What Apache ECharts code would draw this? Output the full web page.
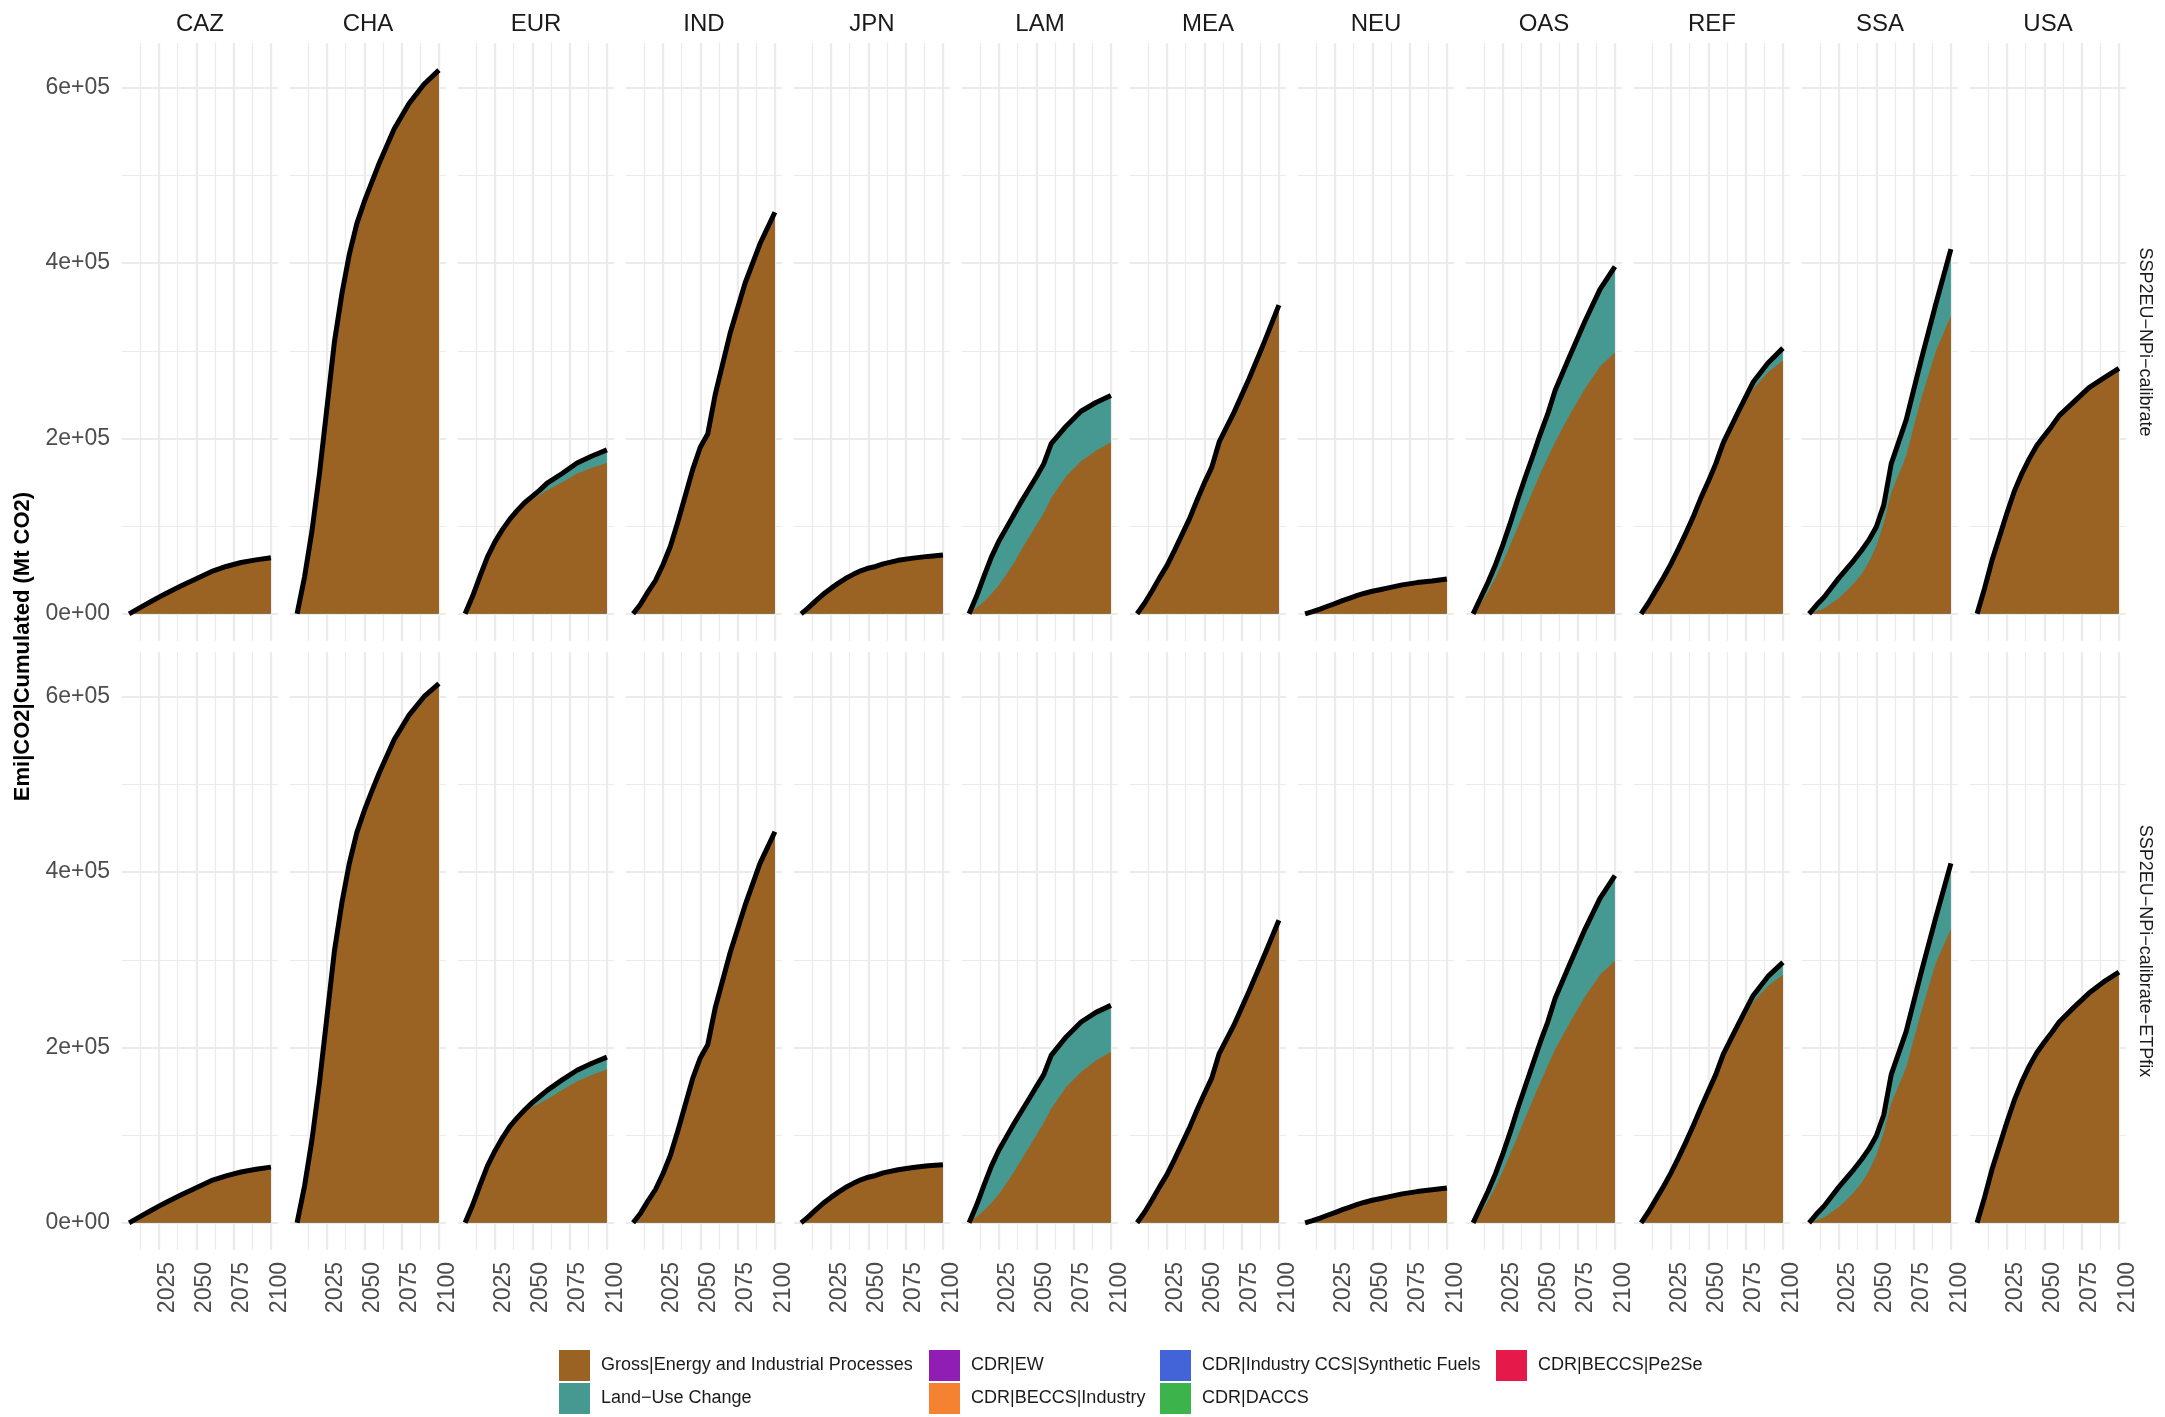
<!DOCTYPE html>
<html>
<head>
<meta charset="utf-8">
<title>Emi|CO2|Cumulated</title>
<script src="https://cdn.jsdelivr.net/npm/echarts@6/dist/echarts.min.js"></script>
<style>
  html, body { margin: 0; padding: 0; background: #ffffff; }
  #chart { width: 2165px; height: 1417px; }
</style>
</head>
<body>
<div id="chart"></div>
<script>
const years = [2005, 2010, 2015, 2020, 2025, 2030, 2035, 2040, 2045, 2050, 2055, 2060, 2070, 2080, 2090, 2100];
const regions = ['CAZ', 'CHA', 'EUR', 'IND', 'JPN', 'LAM', 'MEA', 'NEU', 'OAS', 'REF', 'SSA', 'USA'];
const scenarios = ['SSP2EU\u2212NPi\u2212calibrate', 'SSP2EU\u2212NPi\u2212calibrate\u2212ETPfix'];
const variables = ['Gross|Energy and Industrial Processes', 'Land\u2212Use Change', 'CDR|EW', 'CDR|BECCS|Industry',
  'CDR|Industry CCS|Synthetic Fuels', 'CDR|DACCS', 'CDR|BECCS|Pe2Se'];
const varColors = ['#9A6324', '#469990', '#911EB4', '#F58231', '#4363D8', '#3CB44B', '#E6194B'];

const none = [0, 0, 0, 0, 0, 0, 0, 0, 0, 0, 0, 0, 0, 0, 0, 0];

// Gross|Energy and Industrial Processes, cumulated Mt CO2, rows in region order
const grossNPi = [
  [0, 4800, 9600, 14300, 19000, 23500, 27800, 32000, 36000, 40000, 44000, 48000, 54000, 58500, 61500, 64000],
  [0, 42000, 95000, 160000, 235000, 310000, 365000, 410000, 445000, 470000, 492000, 514000, 553000, 582000, 604000, 620000],
  [0, 20000, 43000, 65000, 82000, 96000, 107500, 117000, 125000, 130500, 135500, 141000, 150000, 160000, 166500, 172000],
  [0, 11000, 25000, 38000, 56000, 77000, 105000, 135000, 165000, 190000, 205000, 250000, 320000, 377000, 422000, 458000],
  [0, 7000, 15000, 22500, 29000, 35000, 40500, 45000, 49000, 52000, 54000, 57000, 61000, 63500, 65500, 67000],
  [0, 7000, 14000, 23000, 33000, 45000, 58000, 73000, 87000, 101000, 115000, 132000, 157000, 174000, 186000, 196000],
  [0, 12000, 26000, 41000, 55000, 72000, 90000, 108000, 129000, 149000, 167000, 196000, 230000, 268000, 309000, 352000],
  [0, 2500, 5400, 8600, 11700, 15000, 18000, 21000, 23500, 25700, 27500, 29300, 33000, 35600, 37400, 39700],
  [0, 11000, 25000, 41000, 59000, 79000, 99000, 120000, 140000, 160000, 178000, 196000, 228000, 257000, 282000, 298000],
  [0, 12600, 27000, 41500, 57000, 74000, 92000, 110500, 131000, 149500, 169000, 192000, 225000, 256500, 275500, 289000],
  [0, 3000, 6000, 12000, 18000, 26000, 35000, 45000, 59000, 77000, 104000, 138000, 180000, 245000, 300000, 340000],
  [0, 29000, 61000, 88000, 115000, 140000, 160000, 177000, 192000, 203000, 214000, 226000, 242000, 258000, 269000, 280000]
];
// Land-Use Change, cumulated Mt CO2
const lucNPi = [
  none,
  none,
  [0, 0, 0, 0, 0, 0, 500, 1000, 2000, 3500, 5500, 8000, 10000, 12000, 13500, 15000],
  none,
  none,
  [0, 13000, 29000, 42000, 50000, 53000, 55000, 55000, 55000, 55000, 56000, 62000, 57000, 57000, 55000, 53000],
  none,
  none,
  [0, 7000, 11000, 15000, 20000, 25000, 32000, 36000, 40000, 45000, 50000, 59000, 67000, 77000, 88000, 98000],
  [0, 0, 0, 0, 0, 0, 0, 500, 1000, 1500, 2000, 3000, 5000, 7500, 10500, 14000],
  [0, 7000, 13000, 18000, 23000, 25000, 26000, 27000, 25000, 22000, 20000, 33000, 41000, 44000, 54000, 76000],
  none
];
const grossETP = [
  [0, 4800, 9600, 14300, 19000, 23500, 27800, 32000, 36000, 40000, 44000, 48000, 53500, 58000, 61000, 63500],
  [0, 42000, 95000, 160000, 235000, 310000, 365000, 410000, 445000, 470000, 492000, 513000, 551000, 579000, 600000, 615000],
  [0, 20000, 43000, 65000, 82000, 97000, 109500, 118500, 126000, 132000, 136500, 141000, 151500, 161500, 168500, 175000],
  [0, 11000, 25000, 38000, 56000, 77000, 105000, 135000, 165000, 188000, 203000, 245000, 308000, 362000, 410000, 446000],
  [0, 7000, 15000, 22500, 29000, 35000, 40500, 45000, 49000, 52000, 54000, 57000, 60500, 63000, 65000, 66300],
  [0, 7000, 14000, 23000, 33000, 45000, 58000, 72000, 86000, 100000, 114000, 130000, 155000, 172000, 185000, 195000],
  [0, 12000, 26000, 41000, 55000, 72000, 90000, 108000, 128000, 147000, 165000, 193000, 226000, 264000, 304000, 345000],
  [0, 2500, 5400, 8600, 11700, 15000, 18000, 21000, 23500, 25700, 27500, 29300, 33000, 35600, 37600, 39700],
  [0, 11000, 25000, 41000, 59000, 79000, 99000, 120000, 140000, 160000, 179000, 198000, 229000, 258000, 283000, 299000],
  [0, 12600, 27000, 41500, 57000, 74000, 92000, 110500, 130000, 148500, 167000, 189000, 221000, 251500, 270500, 283000],
  [0, 3000, 6000, 12000, 18000, 26000, 35000, 45000, 59000, 77000, 103000, 136000, 177000, 240000, 297000, 335000],
  [0, 29000, 61000, 88000, 115000, 140000, 161000, 179000, 194000, 206000, 217000, 229000, 246000, 262000, 275000, 286000]
];
const lucETP = [
  none,
  none,
  [0, 0, 0, 0, 0, 0, 500, 1500, 3000, 5000, 7500, 10000, 11500, 12500, 13500, 14000],
  none,
  none,
  [0, 13000, 29000, 42000, 50000, 53000, 55000, 55000, 55000, 55000, 55000, 61000, 57000, 57000, 55000, 53000],
  none,
  none,
  [0, 7000, 11000, 15000, 20000, 25000, 32000, 36000, 41000, 46000, 50000, 58000, 67000, 77000, 87000, 97000],
  [0, 0, 0, 0, 0, 0, 0, 500, 1000, 1500, 2000, 3000, 5000, 7500, 10500, 14000],
  [0, 7000, 13000, 18000, 23000, 25000, 26000, 27000, 25000, 22000, 20000, 33000, 41000, 45000, 52000, 75000],
  none
];

const grossByRow = [grossNPi, grossETP];
const lucByRow = [lucNPi, lucETP];

// legend columns (ggplot fills the legend column by column)
const legendColumns = [[0, 1], [2, 3], [4, 5], [6]];
const legendLeft = [559, 929, 1160, 1496];

const font = '"Liberation Sans", Arial, Helvetica, sans-serif';
const panelLeft = 122, panelStep = 168, panelWidth = 156;
const rowTop = [43, 652], panelHeight = 598;

// ggplot style expansion: 5% of the data range on both axes
let maxTotal = 0;
grossByRow.forEach(function (rows, s) {
  rows.forEach(function (row, r) {
    row.forEach(function (v, k) { maxTotal = Math.max(maxTotal, v + lucByRow[s][r][k]); });
  });
});
const yPad = 0.05 * maxTotal;
const yMin = -yPad, yMax = maxTotal + yPad;
const xPad = 0.05 * (years[years.length - 1] - years[0]);
const xMin = years[0] - xPad, xMax = years[years.length - 1] + xPad;

function sciLabel(v) {
  if (v === 0) return '0e+00';
  return (v / 100000) + 'e+05';
}

const grids = [], xAxes = [], yAxes = [], series = [], graphics = [];

scenarios.forEach(function (scen, s) {
  regions.forEach(function (reg, r) {
    const gi = s * regions.length + r;
    grids.push({ left: panelLeft + r * panelStep, top: rowTop[s], width: panelWidth, height: panelHeight });

    // major x axis (labels) then minor x axis (grid only)
    xAxes.push({
      type: 'value', gridIndex: gi, min: xMin, max: xMax, minInterval: 25, maxInterval: 25,
      axisLine: { show: false }, axisTick: { show: false },
      axisLabel: {
        show: s === 1, rotate: 90, margin: 12, fontSize: 23, color: '#4D4D4D', fontFamily: font,
        verticalAlign: 'top', lineHeight: 17, showMinLabel: false, showMaxLabel: false,
        formatter: function (v) { return v % 25 === 0 ? String(v) : ''; }
      },
      splitLine: { show: true, showMinLine: false, showMaxLine: false, lineStyle: { color: '#EBEBEB', width: 2.2 } }
    });
    xAxes.push({
      type: 'value', gridIndex: gi, min: xMin, max: xMax, minInterval: 12.5, maxInterval: 12.5,
      axisLine: { show: false }, axisTick: { show: false }, axisLabel: { show: false },
      splitLine: { show: true, showMinLine: false, showMaxLine: false, lineStyle: { color: '#EBEBEB', width: 1.2 } }
    });
    yAxes.push({
      type: 'value', gridIndex: gi, min: yMin, max: yMax, minInterval: 200000, maxInterval: 200000,
      axisLine: { show: false }, axisTick: { show: false },
      axisLabel: {
        show: r === 0, margin: 12, fontSize: 23, color: '#4D4D4D', fontFamily: font,
        showMinLabel: false, showMaxLabel: false,
        formatter: function (v) { return v % 200000 === 0 ? sciLabel(v) : ''; }
      },
      splitLine: { show: true, showMinLine: false, showMaxLine: false, lineStyle: { color: '#EBEBEB', width: 2.2 } }
    });
    yAxes.push({
      type: 'value', gridIndex: gi, min: yMin, max: yMax, minInterval: 100000, maxInterval: 100000,
      axisLine: { show: false }, axisTick: { show: false }, axisLabel: { show: false },
      splitLine: { show: true, showMinLine: false, showMaxLine: false, lineStyle: { color: '#EBEBEB', width: 1.2 } }
    });

    const gross = grossByRow[s][r];
    const luc = lucByRow[s][r];
    const total = years.map(function (y, i) { return gross[i] + luc[i]; });

    // land-use layer sits on top of gross: draw it up to the total, gross covers the lower part
    series.push({
      type: 'line', name: variables[1], xAxisIndex: 2 * gi, yAxisIndex: 2 * gi,
      symbol: 'none', silent: true, z: 1,
      data: years.map(function (y, i) { return [y, total[i]]; }),
      lineStyle: { width: 0, color: varColors[1] },
      itemStyle: { color: varColors[1] },
      areaStyle: { color: varColors[1], opacity: 1 }
    });
    series.push({
      type: 'line', name: variables[0], xAxisIndex: 2 * gi, yAxisIndex: 2 * gi,
      symbol: 'none', silent: true, z: 2,
      data: years.map(function (y, i) { return [y, gross[i]]; }),
      lineStyle: { width: 0, color: varColors[0] },
      itemStyle: { color: varColors[0] },
      areaStyle: { color: varColors[0], opacity: 1 }
    });
    series.push({
      type: 'line', name: 'Total', xAxisIndex: 2 * gi, yAxisIndex: 2 * gi,
      symbol: 'none', silent: true, z: 3,
      data: years.map(function (y, i) { return [y, total[i]]; }),
      lineStyle: { width: 5, color: '#000000', join: 'round' },
      itemStyle: { color: '#000000' }
    });

    if (s === 0) {
      graphics.push({
        type: 'text', x: panelLeft + r * panelStep + panelWidth / 2, y: 24, silent: true,
        style: { text: reg, fontSize: 24, fontFamily: font, fill: '#1A1A1A',
          align: 'center', verticalAlign: 'middle', textAlign: 'center', textVerticalAlign: 'middle' }
      });
    }
  });
  graphics.push({
    type: 'text', x: 2145, y: rowTop[s] + panelHeight / 2, rotation: -Math.PI / 2, silent: true,
    style: { text: scen, fontSize: 18, fontFamily: font, fill: '#1A1A1A',
      align: 'center', verticalAlign: 'middle', textAlign: 'center', textVerticalAlign: 'middle' }
  });
});

// CDR categories have no values in this run, only legend entries
for (let k = 2; k < variables.length; k++) {
  series.push({
    type: 'line', name: variables[k], xAxisIndex: 0, yAxisIndex: 0, symbol: 'none', data: [],
    lineStyle: { width: 0, color: varColors[k] }, itemStyle: { color: varColors[k] },
    areaStyle: { color: varColors[k], opacity: 1 }
  });
}

graphics.push({
  type: 'text', x: 23, y: (rowTop[0] + rowTop[1] + panelHeight) / 2, rotation: Math.PI / 2, silent: true,
  style: { text: 'Emi|CO2|Cumulated (Mt CO2)', fontSize: 22, fontWeight: 'bold', fontFamily: font, fill: '#000000',
    align: 'center', verticalAlign: 'middle', textAlign: 'center', textVerticalAlign: 'middle' }
});

const legends = legendColumns.map(function (col, c) {
  return {
    orient: 'vertical', left: legendLeft[c], top: 1350, padding: 0,
    itemWidth: 31, itemHeight: 31, itemGap: 2, icon: 'rect', selectedMode: false,
    textStyle: { fontSize: 18, color: '#1A1A1A', fontFamily: font, padding: [0, 0, 0, 6] },
    data: col.map(function (k) {
      return { name: variables[k], itemStyle: { color: varColors[k], borderWidth: 0 } };
    })
  };
});

const chart = echarts.init(document.getElementById('chart'));
chart.setOption({
  animation: false,
  backgroundColor: '#ffffff',
  legend: legends,
  grid: grids,
  xAxis: xAxes,
  yAxis: yAxes,
  series: series,
  graphic: graphics
});
</script>
</body>
</html>
